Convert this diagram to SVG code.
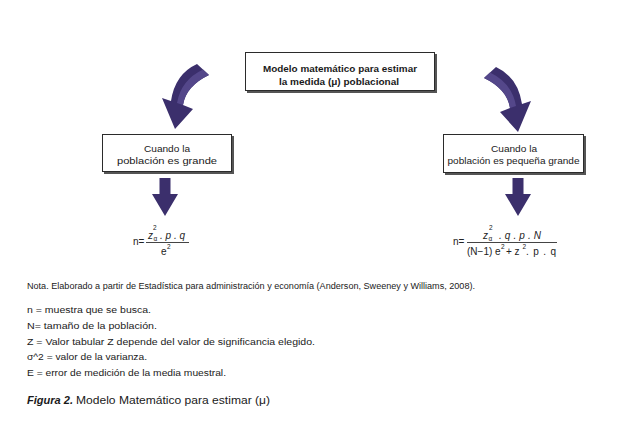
<svg xmlns="http://www.w3.org/2000/svg" width="623" height="429" viewBox="0 0 623 429">
<defs>
<style>
.t{font-family:"Liberation Sans",Arial,sans-serif;fill:#1a1a1a}
.box{fill:#fff;stroke:#2b2b2b;stroke-width:1}
.sh{fill:#555}
.arr{fill:#3b2f6c}
.hl{fill:#54478a}
.m{font-family:"Liberation Sans",Arial,sans-serif;fill:#222;font-size:10px}
.s{font-size:6.5px}
.i{font-style:italic}
</style>
<g id="downArrow">
<polygon points="-5.5,0 5.5,0 5.5,16 13,16 0,38 -13,16 -5.5,16"/>
</g>
</defs>
<rect width="623" height="429" fill="#fff"/>

<g id="node-top">
<rect class="sh" x="247" y="54" width="190" height="39"/>
<rect class="box" x="245.5" y="52.5" width="189" height="38"/>
<text class="t" x="263" y="72" font-size="9.5" font-weight="bold" textLength="154" lengthAdjust="spacingAndGlyphs">Modelo matemático para estimar</text>
<text class="t" x="279" y="84.5" font-size="9.5" font-weight="bold" textLength="120" lengthAdjust="spacingAndGlyphs">la medida (μ) poblacional</text>
</g>

<g id="node-left">
<rect class="sh" x="104" y="136" width="130" height="38"/>
<rect class="box" x="102.5" y="134.5" width="129" height="37"/>
<text class="t" x="144" y="151.5" font-size="9.5" textLength="46" lengthAdjust="spacingAndGlyphs">Cuando la</text>
<text class="t" x="117" y="163.5" font-size="9.5" textLength="100" lengthAdjust="spacingAndGlyphs">población es grande</text>
</g>

<g id="node-right">
<rect class="sh" x="445" y="136" width="141" height="39"/>
<rect class="box" x="443.5" y="134.5" width="140" height="38"/>
<text class="t" x="491" y="151.5" font-size="9.5" textLength="46" lengthAdjust="spacingAndGlyphs">Cuando la</text>
<text class="t" x="447.5" y="163.5" font-size="9.5" textLength="132" lengthAdjust="spacingAndGlyphs">población es pequeña grande</text>
</g>

<g id="connectors">
<g id="curve-left">
<path class="arr" d="M197,64 Q175,74 171,101 L162,98 L175,129 L193,109 L183,105 Q186,86 209,75 Z"/>
<path class="hl" d="M203,69.5 Q181,80 177,103 L183,105 Q186,86 209,75 Z"/>
</g>
<g id="curve-right" transform="translate(693,3) scale(-1,1)">
<path class="arr" d="M197,64 Q175,74 171,101 L162,98 L175,129 L193,109 L183,105 Q186,86 209,75 Z"/>
<path class="hl" d="M203,69.5 Q181,80 177,103 L183,105 Q186,86 209,75 Z"/>
</g>
<use href="#downArrow" class="arr" x="165" y="178"/>
<use href="#downArrow" class="arr" x="518" y="178"/>
</g>

<g id="formula-left">
<text class="m" x="133" y="245">n=</text>
<text class="m i" x="148" y="239">z</text>
<text class="m s" x="153" y="229.5">2</text>
<text class="m s" x="153.5" y="240.5">α</text>
<text class="m i" x="160" y="238.5">. p . q</text>
<line x1="146" y1="242.5" x2="189" y2="242.5" stroke="#444" stroke-width="1"/>
<text class="m" x="161" y="254.5">e</text>
<text class="m s" x="167" y="249">2</text>
</g>

<g id="formula-right">
<text class="m" x="453" y="245">n=</text>
<text class="m i" x="483" y="239">z</text>
<text class="m s" x="489" y="229.5">2</text>
<text class="m s" x="488.5" y="240.5">α</text>
<text class="m i" x="499" y="238.5" textLength="42" lengthAdjust="spacing">. q . p . N</text>
<line x1="467" y1="242.5" x2="557" y2="242.5" stroke="#444" stroke-width="1"/>
<text class="m" x="467" y="254.5">(N−1) e</text>
<text class="m s" x="501" y="249">2</text>
<text class="m" x="506" y="254.5">+ z</text>
<text class="m s" x="522.5" y="249">2</text>
<text class="m" x="526" y="254.5" textLength="30" lengthAdjust="spacing">. p . q</text>
</g>

<text class="t" x="27" y="289" font-size="8.3" textLength="448" lengthAdjust="spacingAndGlyphs">Nota. Elaborado a partir de Estadística para administración y economía (Anderson, Sweeney y Williams, 2008).</text>
<text class="t" x="27" y="313" font-size="9.2" textLength="124" lengthAdjust="spacingAndGlyphs">n = muestra que se busca.</text>
<text class="t" x="27" y="329" font-size="9.2" textLength="130" lengthAdjust="spacingAndGlyphs">N= tamaño de la población.</text>
<text class="t" x="27" y="345" font-size="9.2" textLength="288" lengthAdjust="spacingAndGlyphs">Z = Valor tabular Z depende del valor de significancia elegido.</text>
<text class="t" x="27" y="360" font-size="9.2" textLength="120" lengthAdjust="spacingAndGlyphs">σ^2 = valor de la varianza.</text>
<text class="t" x="27" y="376" font-size="9.2" textLength="199" lengthAdjust="spacingAndGlyphs">E = error de medición de la media muestral.</text>
<text class="t" x="27" y="404" font-size="10.5"><tspan font-weight="bold" font-style="italic" textLength="46" lengthAdjust="spacingAndGlyphs">Figura 2.</tspan><tspan x="76" textLength="194" lengthAdjust="spacingAndGlyphs">Modelo Matemático para estimar (μ)</tspan></text>
</svg>
